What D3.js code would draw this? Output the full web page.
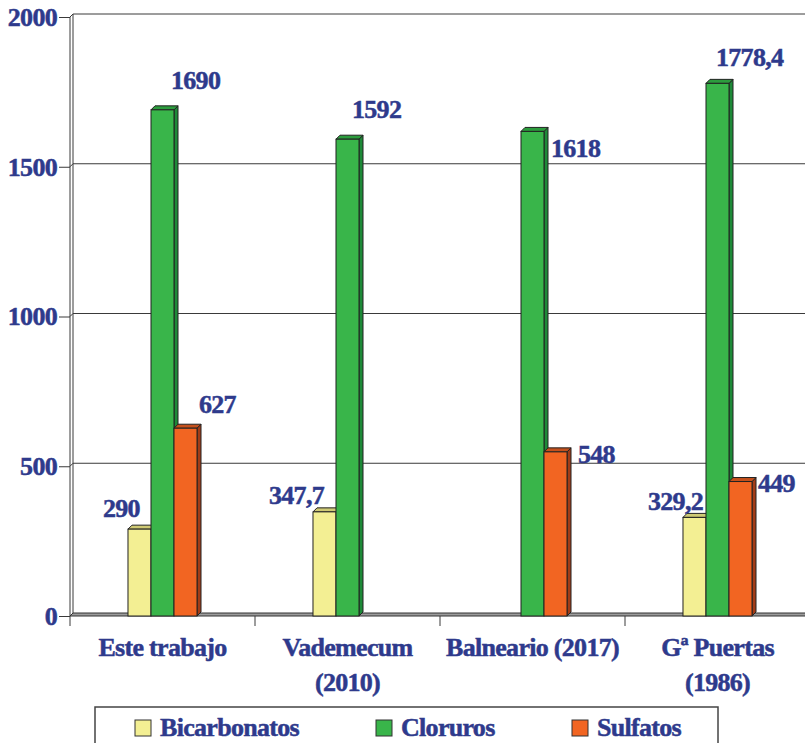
<!DOCTYPE html>
<html>
<head>
<meta charset="utf-8">
<script src="https://cdn.jsdelivr.net/npm/d3@7"></script>
<style>
  body { margin: 0; background: #fff; }
  text { font-family: "Liberation Serif", "Times New Roman", serif; font-weight: bold; fill: #2E3A8C; stroke: #2E3A8C; stroke-width: 0.5px; }
</style>
</head>
<body>
<div class="chart"></div>
<script>
// Data
var categories = ["Este trabajo", "Vademecum (2010)", "Balneario (2017)", "Gª Puertas (1986)"];
var categoryLines = [["Este trabajo"], ["Vademecum", "(2010)"], ["Balneario (2017)"], ["Gª Puertas", "(1986)"]];
var seriesNames = ["Bicarbonatos", "Cloruros", "Sulfatos"];
var bicarbonatos = [290, 347.7, null, 329.2];
var cloruros = [1690, 1592, 1618, 1778.4];
var sulfatos = [627, null, 548, 449];
var yTicks = [0, 500, 1000, 1500, 2000];

// Layout / styles
var svgWidth = 805;
var svgHeight = 743;
var wall = 3;      // depth of back wall
var depth = 4;     // depth of bars
var fontSize = "26px";
var spacing = "-0.7px";
var colors = {
  Bicarbonatos: { front: "#F3EF93", top: "#CFCA74", side: "#B5B05A" },
  Cloruros: { front: "#39B54A", top: "#2C9C3D", side: "#1E8A38" },
  Sulfatos: { front: "#F26522", top: "#C4501C", side: "#A33C17" }
};
// label nudges [dx, dy] from the bar's front top-left corner
var labelNudge = {
  Bicarbonatos: [[-25, -12], [-44, -8], [0, 0], [-35, -7]],
  Cloruros: [[20, -21], [16, -21], [30, 26], [10, -17]],
  Sulfatos: [[25, -15], [0, 0], [34, 11], [29, 10]]
};

var seriesValues = { Bicarbonatos: bicarbonatos, Cloruros: cloruros, Sulfatos: sulfatos };

var svg = d3.select(".chart")
  .append("svg")
  .attr("width", svgWidth)
  .attr("height", svgHeight);

var y = d3.scaleLinear().domain([0, 2000]).range([616, 17]);
var x0 = d3.scaleBand().domain(categories).range([70, 810]);
var x1 = d3.scaleBand().domain(seriesNames).range([0, x0.bandwidth()]).paddingOuter(2.52);

var base = y(0);

// Back wall gridlines
svg.selectAll(".grid")
  .data(yTicks.slice(1))
  .enter()
  .append("line")
  .attr("x1", 70 + wall)
  .attr("x2", svgWidth)
  .attr("y1", d => y(d) - wall)
  .attr("y2", d => y(d) - wall)
  .attr("stroke", "#3a3a3a")
  .attr("stroke-width", 1);

// Wall verticals
svg.append("line")
  .attr("x1", 70 + wall).attr("x2", 70 + wall)
  .attr("y1", y(2000) - wall).attr("y2", base - wall)
  .attr("stroke", "#3a3a3a");
svg.append("line")
  .attr("x1", 70).attr("x2", 70)
  .attr("y1", y(2000)).attr("y2", base + 10)
  .attr("stroke", "#3a3a3a");

// Tick diagonals
svg.selectAll(".diag")
  .data(yTicks)
  .enter()
  .append("line")
  .attr("x1", 70).attr("x2", 70 + wall)
  .attr("y1", d => y(d)).attr("y2", d => y(d) - wall)
  .attr("stroke", "#3a3a3a");

// Floor
svg.append("polygon")
  .attr("points", [[70, base], [70 + wall, base - wall], [svgWidth + 5, base - wall], [svgWidth + 2, base]].join(" "))
  .attr("fill", "#9c9c9c")
  .attr("stroke", "#333")
  .attr("stroke-width", 1);

// Y axis
var leftAxis = d3.axisLeft(y).tickValues(yTicks).tickSize(11).tickPadding(2).tickFormat(d3.format("d"));
var yAxisG = svg.append("g")
  .attr("transform", "translate(70,0)")
  .call(leftAxis);
yAxisG.select(".domain").remove();
yAxisG.attr("font-family", null).attr("font-size", null);
yAxisG.selectAll("line").attr("stroke", "#3a3a3a");
yAxisG.selectAll("text")
  .attr("fill", null)
  .style("font-size", fontSize)
  .style("letter-spacing", spacing);

// Category ticks
svg.selectAll(".ctick")
  .data(categories.slice(1))
  .enter()
  .append("line")
  .attr("x1", d => x0(d)).attr("x2", d => x0(d))
  .attr("y1", base).attr("y2", base + 10)
  .attr("stroke", "#3a3a3a");

// Category labels
var catG = svg.selectAll(".cat")
  .data(categories)
  .enter()
  .append("text")
  .attr("text-anchor", "middle")
  .style("font-size", fontSize)
  .style("letter-spacing", spacing);
catG.each(function (d, i) {
  var t = d3.select(this);
  categoryLines[i].forEach(function (line, j) {
    t.append("tspan")
      .attr("x", x0(d) + x0.bandwidth() / 2)
      .attr("y", 656 + j * 35)
      .text(line);
  });
});

// Bars
function fmt(v) { return String(v).replace(".", ","); }

seriesNames.forEach(function (s) {
  var vals = seriesValues[s];
  var c = colors[s];
  var g = svg.append("g");
  vals.forEach(function (v, i) {
    if (v == null) return;
    var bx = x0(categories[i]) + x1(s);
    var bw = x1.bandwidth();
    var by = y(v);
    g.append("polygon")
      .attr("points", [[bx + bw, by], [bx + bw + depth, by - depth], [bx + bw + depth, base - depth], [bx + bw, base]].join(" "))
      .attr("fill", c.side).attr("stroke", "#222").attr("stroke-width", 1);
    g.append("polygon")
      .attr("points", [[bx, by], [bx + depth, by - depth], [bx + bw + depth, by - depth], [bx + bw, by]].join(" "))
      .attr("fill", c.top).attr("stroke", "#222").attr("stroke-width", 1);
    g.append("rect")
      .attr("x", bx).attr("y", by)
      .attr("width", bw).attr("height", base - by)
      .attr("fill", c.front).attr("stroke", "#222").attr("stroke-width", 1);
  });
});

// Value labels (drawn last)
seriesNames.forEach(function (s) {
  seriesValues[s].forEach(function (v, i) {
    if (v == null) return;
    var nudge = labelNudge[s][i];
    svg.append("text")
      .attr("x", x0(categories[i]) + x1(s) + nudge[0])
      .attr("y", y(v) + nudge[1])
      .style("font-size", fontSize)
      .style("letter-spacing", spacing)
      .text(fmt(v));
  });
});

// Legend
svg.append("rect")
  .attr("x", 95).attr("y", 707)
  .attr("width", 623).attr("height", 60)
  .attr("fill", "#fff")
  .attr("stroke", "#444")
  .attr("stroke-width", 1.5);

var legendX = [135, 376, 572];
var legend = svg.selectAll(".legend")
  .data(seriesNames)
  .enter()
  .append("g")
  .attr("transform", (d, i) => `translate(${legendX[i]}, 720)`);
legend.append("rect")
  .attr("width", 16).attr("height", 16)
  .attr("fill", d => colors[d].front)
  .attr("stroke", "#333").attr("stroke-width", 1);
legend.append("text")
  .attr("x", 25).attr("y", 16)
  .style("font-size", fontSize)
  .style("letter-spacing", spacing)
  .text(d => d);
</script>
</body>
</html>
